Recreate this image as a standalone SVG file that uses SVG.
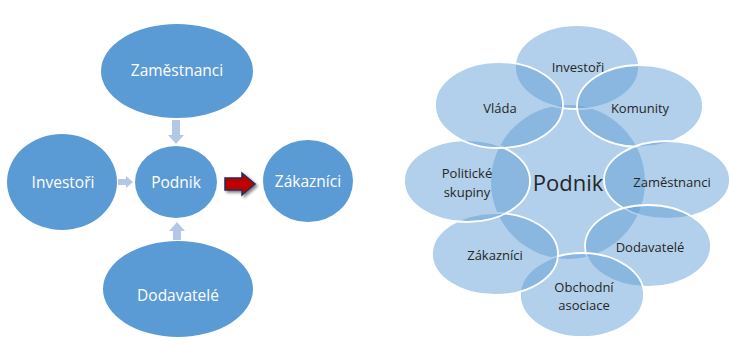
<svg xmlns="http://www.w3.org/2000/svg" width="729" height="345" viewBox="0 0 729 345">
<defs>
<style>
.n{fill:#5b9bd5}
.t{font-family:"Open Sans","Noto Sans",sans-serif;font-size:15.5px;fill:#ffffff;text-anchor:middle;dominant-baseline:central}
.s{fill:#5b9bd5;fill-opacity:0.47;stroke:#ffffff;stroke-width:1.8}
.c{fill:#5b9bd5;fill-opacity:0.47}
.u{font-family:"Open Sans","Noto Sans",sans-serif;font-size:13px;fill:#262626;text-anchor:middle;dominant-baseline:central}
.a{fill:#b4c7e7}
</style>
<filter id="sh" x="-30%" y="-30%" width="160%" height="160%">
<feGaussianBlur in="SourceAlpha" stdDeviation="1.5"/>
<feOffset dx="1.5" dy="1.5"/>
<feComponentTransfer><feFuncA type="linear" slope="0.5"/></feComponentTransfer>
<feMerge><feMergeNode/><feMergeNode in="SourceGraphic"/></feMerge>
</filter>
</defs>
<rect width="729" height="345" fill="#ffffff"/>
<g id="left-zamestnanci"><ellipse class="n" cx="177" cy="71" rx="76" ry="47"/><text class="t" x="177" y="70">Zaměstnanci</text></g>
<g id="left-investori"><ellipse class="n" cx="62" cy="182" rx="55" ry="48"/><text class="t" x="63" y="182">Investoři</text></g>
<g id="left-podnik"><ellipse class="n" cx="176" cy="182" rx="41" ry="36"/><text class="t" x="176" y="182">Podnik</text></g>
<g id="left-zakaznici"><ellipse class="n" cx="308" cy="181" rx="45" ry="41"/><text class="t" x="308" y="181">Zákazníci</text></g>
<g id="left-dodavatele"><ellipse class="n" cx="178" cy="289" rx="75" ry="48"/><text class="t" x="178" y="295">Dodavatelé</text></g>
<g id="connectors">
<polygon class="a" points="172,120 180,120 180,135 184,135 176,144 168,135 172,135"/>
<polygon class="a" points="118,179 126,179 126,176 133,182 126,188 126,185 118,185"/>
<polygon class="a" points="173,240 181,240 181,231 185,231 177,222 169,231 173,231"/>
<polygon points="225,178 242,178 242,173 255,184 242,195 242,190 225,190" fill="#c00000" stroke="#1f2f5a" stroke-width="1.5" stroke-linejoin="miter" filter="url(#sh)"/>
</g>
<g id="right-podnik"><circle class="c" cx="568" cy="182" r="77"/></g>
<g id="right-investori"><ellipse class="s" cx="577" cy="67" rx="62" ry="42"/></g>
<g id="right-komunity"><ellipse class="s" cx="640" cy="106" rx="63" ry="41"/></g>
<g id="right-zamestnanci"><ellipse class="s" cx="667" cy="180" rx="63" ry="39"/></g>
<g id="right-dodavatele"><ellipse class="s" cx="648" cy="246" rx="63" ry="41"/></g>
<g id="right-obchodni"><ellipse class="s" cx="582" cy="295" rx="62" ry="42"/></g>
<g id="right-zakaznici"><ellipse class="s" cx="495" cy="254" rx="63" ry="41"/></g>
<g id="right-politicke"><ellipse class="s" cx="467" cy="181" rx="63" ry="41"/></g>
<g id="right-vlada"><ellipse class="s" cx="499" cy="105" rx="64" ry="43"/></g>
<g id="right-labels">
<text class="u" x="568" y="182" style="font-size:22px">Podnik</text>
<text class="u" x="578" y="67">Investoři</text>
<text class="u" x="640" y="108">Komunity</text>
<text class="u" x="672" y="182">Zaměstnanci</text>
<text class="u" x="650" y="247">Dodavatelé</text>
<text class="u" x="584" y="287">Obchodní</text>
<text class="u" x="584" y="305">asociace</text>
<text class="u" x="495" y="255">Zákazníci</text>
<text class="u" x="467" y="173">Politické</text>
<text class="u" x="467" y="192">skupiny</text>
<text class="u" x="500" y="108">Vláda</text>
</g>
</svg>
